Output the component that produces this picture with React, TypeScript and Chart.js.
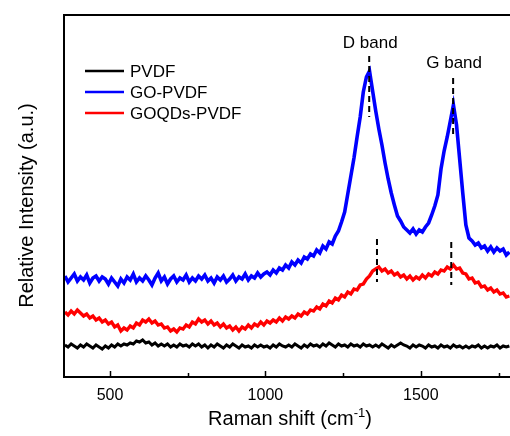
import React, { useEffect, useRef } from 'react';
import { Chart, registerables } from 'chart.js';

Chart.register(...registerables);

// Raman shift (cm^-1)
const shifts = [
  355, 365, 375, 385, 395, 405, 415, 425, 435, 445,
  455, 465, 475, 485, 495, 505, 515, 525, 535, 545,
  555, 565, 575, 585, 595, 605, 615, 625, 635, 645,
  655, 665, 675, 685, 695, 705, 715, 725, 735, 745,
  755, 765, 775, 785, 795, 805, 815, 825, 835, 845,
  855, 865, 875, 885, 895, 905, 915, 925, 935, 945,
  955, 965, 975, 985, 995, 1005, 1015, 1025, 1035, 1045,
  1055, 1065, 1075, 1085, 1095, 1105, 1115, 1125, 1135, 1145,
  1155, 1165, 1175, 1185, 1195, 1205, 1215, 1225, 1235, 1245,
  1255, 1265, 1275, 1285, 1295, 1305, 1315, 1325, 1335, 1345,
  1355, 1365, 1375, 1385, 1395, 1405, 1415, 1425, 1435, 1445,
  1455, 1465, 1475, 1485, 1495, 1505, 1515, 1525, 1535, 1545,
  1555, 1565, 1575, 1585, 1595, 1605, 1615, 1625, 1635, 1645,
  1655, 1665, 1675, 1685, 1695, 1705, 1715, 1725, 1735, 1745,
  1755, 1765, 1775, 1785,
];

const pvdf = [
  32, 30, 33, 31, 29, 32, 30, 33, 31, 29,
  32, 30, 28, 31, 29, 32, 30, 33, 31, 33,
  32, 34, 33, 36, 35, 37, 34, 35, 32, 34,
  31, 33, 31, 33, 30, 32, 30, 33, 31, 32,
  30, 33, 31, 33, 30, 32, 29, 32, 30, 33,
  31, 29, 32, 30, 33, 31, 29, 32, 30, 31,
  29, 32, 30, 32, 30, 31, 29, 32, 30, 33,
  31, 30, 32, 30, 33, 31, 29, 32, 30, 33,
  31, 32, 30, 33, 31, 34, 32, 30, 33, 31,
  32, 30, 33, 31, 32, 30, 33, 31, 32, 30,
  32, 30, 33, 31, 29, 32, 30, 32, 34, 32,
  31, 29, 32, 30, 32, 31, 29, 32, 30, 31,
  29, 32, 30, 31, 29, 32, 30, 31, 29, 31,
  29, 31, 30, 32, 29, 31, 29, 31, 30, 32,
  29, 31, 30, 31,
];

const goPvdf = [
  101, 95, 99, 103, 96, 100, 97, 102, 94, 99,
  101, 96, 100, 98, 93, 99, 95, 91, 98, 94,
  100, 97, 103, 95, 99, 96, 101, 97, 92, 99,
  104, 96, 100, 93, 98, 101, 95, 99, 97, 102,
  95, 99, 96, 101, 98, 102, 96, 99, 94, 100,
  97, 101, 95, 98, 102, 96, 100, 98, 103, 97,
  101, 99, 104, 100, 103, 105, 102, 107, 104, 109,
  107, 112, 109, 115, 112, 117, 114, 120, 118, 123,
  121, 127, 124, 131, 128, 135, 133, 141, 146, 155,
  165, 183, 201, 219, 240, 260, 285, 300, 306, 286,
  266, 248, 232, 214, 198, 184, 172, 161, 156, 150,
  147, 144, 148, 143, 147, 145, 150, 154, 162, 171,
  182, 208, 226, 240, 256, 272, 252, 218, 184, 152,
  139, 136, 132, 134, 129, 131, 126, 130, 125, 129,
  126, 128, 122, 125,
];

const goqdsPvdf = [
  65, 62, 66, 63, 67, 64, 61, 63, 59, 61,
  57, 59, 55, 57, 53, 55, 50, 52, 46, 49,
  47, 51, 49, 54, 52, 57, 55, 58, 54, 56,
  52, 53, 49, 50, 46, 48, 45, 49, 48, 52,
  50, 55, 53, 58, 55, 57, 53, 56, 52, 54,
  50, 53, 49, 51, 47, 50, 46, 50, 48, 52,
  49, 53, 51, 55, 52, 56, 54, 57, 55, 59,
  56, 60, 58, 61, 59, 63, 61, 65, 63, 67,
  66, 70, 68, 73, 71, 76, 74, 79, 77, 82,
  80, 85, 83, 88, 87, 92, 93, 98, 101, 106,
  108, 110, 106, 108, 104, 106, 102, 104, 100, 102,
  98, 101, 97, 100, 98, 102, 99, 103, 101, 105,
  103, 107, 106, 110, 108, 112, 108, 109, 104, 103,
  98, 99, 94, 95, 90, 91, 87, 89, 85, 87,
  83, 84, 80, 81,
];

const seriesLabels = ['PVDF', 'GO-PVDF', 'GOQDs-PVDF'];
const seriesColors = ['#000000', '#0000ff', '#ff0000'];
const seriesWidths = [3, 3.6, 3.4];

// band annotations
const bandLabels = ['D band', 'G band'];
const bandShift = [1334, 1604];
const bandLabelLevel = [329, 309];
const bandUpperTop = [321, 299];
const bandUpperBottom = [260, 240];
const bandLowerShift = [1359, 1598];
const bandLowerTop = [138, 135];
const bandLowerBottom = [95, 92];

const xMin = 352;
const xMax = 1787;
const yMin = 0;
const yMax = 362;
const xTickStep = 250;
const xLabelStep = 500;

const FONT = "'Liberation Sans', Arial, Helvetica, sans-serif";

const decorPlugin = {
  id: 'decor',
  afterDraw(chart: any) {
    const { ctx, chartArea } = chart;
    const xs = chart.scales.x;
    const ys = chart.scales.y;
    const { left, right, top, bottom } = chartArea;
    ctx.save();
    // frame
    ctx.strokeStyle = '#000';
    ctx.lineWidth = 2;
    ctx.beginPath();
    ctx.moveTo(right + 2, top);
    ctx.lineTo(left, top);
    ctx.lineTo(left, bottom);
    ctx.lineTo(right + 2, bottom);
    ctx.stroke();
    // inward tick marks
    ctx.lineWidth = 1.5;
    for (const t of xs.ticks) {
      const px = Math.round(xs.getPixelForValue(t.value)) + 0.5;
      const len = t.value % xLabelStep === 0 ? 6 : 4;
      ctx.beginPath();
      ctx.moveTo(px, bottom);
      ctx.lineTo(px, bottom - len);
      ctx.stroke();
    }
    // legend
    ctx.font = `17px ${FONT}`;
    ctx.textAlign = 'left';
    ctx.textBaseline = 'alphabetic';
    const legendY = [71, 92, 113];
    seriesLabels.forEach((lab, i) => {
      ctx.strokeStyle = seriesColors[i];
      ctx.lineWidth = 2.5;
      ctx.beginPath();
      ctx.moveTo(85, legendY[i]);
      ctx.lineTo(124, legendY[i]);
      ctx.stroke();
      ctx.fillStyle = '#000';
      ctx.fillText(lab, 130, legendY[i] + 6);
    });
    // band labels
    ctx.textAlign = 'center';
    bandLabels.forEach((lab, i) => {
      ctx.fillText(lab, xs.getPixelForValue(bandShift[i]) + 1, ys.getPixelForValue(bandLabelLevel[i]));
    });
    // x title
    ctx.font = `20px ${FONT}`;
    const main = 'Raman shift (cm';
    const sup = '-1';
    const close = ')';
    const wMain = ctx.measureText(main).width;
    const wClose = ctx.measureText(close).width;
    ctx.font = `13px ${FONT}`;
    const wSup = ctx.measureText(sup).width;
    const total = wMain + wSup + wClose;
    const x0 = 290 - total / 2;
    const base = 425;
    ctx.textAlign = 'left';
    ctx.font = `20px ${FONT}`;
    ctx.fillText(main, x0, base);
    ctx.font = `13px ${FONT}`;
    ctx.fillText(sup, x0 + wMain, base - 8);
    ctx.font = `20px ${FONT}`;
    ctx.fillText(close, x0 + wMain + wSup, base);
    // y title
    ctx.save();
    ctx.translate(33, 205.5);
    ctx.rotate(-Math.PI / 2);
    ctx.textAlign = 'center';
    ctx.fillText('Relative Intensity (a.u.)', 0, 0);
    ctx.restore();
    ctx.restore();
  },
};

export default function App() {
  const ref = useRef<HTMLCanvasElement | null>(null);
  useEffect(() => {
    if (!ref.current) return;
    const mk = (arr: number[]) => shifts.map((x, i) => ({ x, y: arr[i] }));
    const seg = (x: number, y1: number, y2: number) => [
      { x, y: y1 },
      { x, y: y2 },
    ];
    const dashed = (data: any) => ({
      label: '',
      data,
      borderColor: '#000',
      borderWidth: 2,
      borderDash: [6, 4],
      pointRadius: 0,
      order: 0,
    });
    const spectrum = (arr: number[], i: number) => ({
      label: seriesLabels[i],
      data: mk(arr),
      borderColor: seriesColors[i],
      backgroundColor: seriesColors[i],
      borderWidth: seriesWidths[i],
      borderJoinStyle: 'miter',
      pointRadius: 0,
      tension: 0,
      order: 1,
    });
    const chart = new Chart(ref.current, {
      type: 'line',
      data: {
        datasets: [
          spectrum(pvdf, 0),
          spectrum(goPvdf, 1),
          spectrum(goqdsPvdf, 2),
          dashed(seg(bandShift[0], bandUpperTop[0], bandUpperBottom[0])),
          dashed(seg(bandShift[1], bandUpperTop[1], bandUpperBottom[1])),
          dashed(seg(bandLowerShift[0], bandLowerTop[0], bandLowerBottom[0])),
          dashed(seg(bandLowerShift[1], bandLowerTop[1], bandLowerBottom[1])),
        ] as any,
      },
      options: {
        animation: false,
        responsive: false,
        layout: { padding: { left: 64, top: 15, right: 0, bottom: 0 } },
        plugins: { legend: { display: false }, tooltip: { enabled: false } },
        scales: {
          x: {
            type: 'linear',
            min: xMin,
            max: xMax,
            grid: { display: false, drawTicks: false },
            border: { display: false },
            ticks: {
              stepSize: xTickStep,
              includeBounds: false,
              autoSkip: false,
              maxRotation: 0,
              padding: 9,
              color: '#000',
              font: { family: FONT, size: 16 },
              callback: (v: any) => (Number(v) % xLabelStep === 0 ? String(v) : ''),
            },
            afterFit: (s: any) => {
              s.height = 59;
              s.paddingLeft = 0;
              s.paddingRight = 0;
            },
          },
          y: {
            type: 'linear',
            display: false,
            min: yMin,
            max: yMax,
          },
        },
      } as any,
      plugins: [decorPlugin],
    });
    return () => chart.destroy();
  }, []);
  return (
    <div style={{ position: 'absolute', left: 0, top: 0, width: 510, height: 436, background: '#fff' }}>
      <canvas ref={ref} width={510} height={436} style={{ display: 'block' }} />
    </div>
  );
}
